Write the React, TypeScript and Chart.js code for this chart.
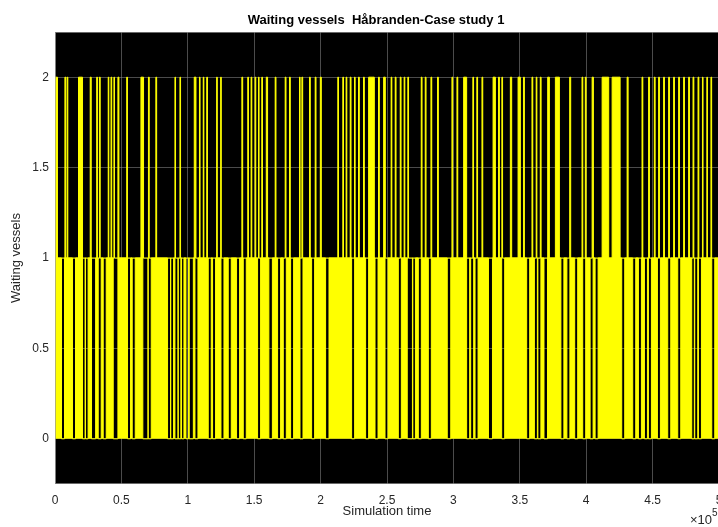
import React, { useEffect, useRef } from "react";
import { Chart, registerables } from "chart.js";

Chart.register(...registerables);

const TITLE = "Waiting vessels  Håbranden-Case study 1";
const X_LABEL = "Simulation time";
const Y_LABEL = "Waiting vessels";
const X_EXPONENT = "5";

const TIME_MIN = 0;
const TIME_MAX = 500000;
const Y_MIN = -0.25;
const Y_MAX = 2.25;

const xTickValues = [0, 50000, 100000, 150000, 200000, 250000, 300000, 350000, 400000, 450000, 500000];
const xTickLabels = ["0", "0.5", "1", "1.5", "2", "2.5", "3", "3.5", "4", "4.5", "5"];
const yTickValues = [0, 0.5, 1, 1.5, 2];
const yTickLabels = ["0", "0.5", "1", "1.5", "2"];

// Periods (simulation time) in which two vessels were waiting
const twoWaitingStart = [
  0, 7460, 9190, 17700, 26520, 31410, 33450, 40080, 42180, 44370, 47380, 54010, 64710, 70360, 75940,
  90320, 94090, 104860, 108780, 111640, 114270, 121740, 124750, 140720, 145160, 147650, 150670, 153220,
  155710, 159100, 165800, 173330, 176570, 184110, 185910, 191640, 195930, 199780, 212960, 216730, 219210,
  222300, 225530, 228550, 232310, 236160, 243620, 247460, 253110, 256200, 259970, 262900, 265690, 275790,
  278800, 283090, 288060, 298910, 302680, 307720, 314660, 317660, 321510, 329870, 334010, 336500, 342900,
  348700, 352840, 359170, 362340, 365430, 371000, 376800, 387570, 396840, 399320, 404450, 411980, 419520,
  430810, 442030, 447010, 451300, 454540, 458300, 462080, 465840, 469610, 473370, 477140, 480450, 484220,
  487530, 490850, 493940,
];
const twoWaitingEnd = [
  1880, 8140, 9650, 20720, 27270, 31940, 34050, 40530, 42720, 44820, 48130, 54540, 66670, 70960, 76540,
  90770, 94540, 106140, 109230, 112090, 114810, 122190, 125200, 141320, 145690, 148180, 151190, 153670,
  156230, 160070, 166400, 173940, 177180, 184560, 186510, 192240, 196540, 200530, 213490, 217250, 219740,
  222910, 226000, 229150, 232920, 240450, 244220, 248730, 253640, 256800, 260570, 263430, 266220, 276390,
  279400, 283690, 288670, 299510, 303280, 309980, 315180, 318200, 322110, 331610, 334620, 337020, 343880,
  350430, 353440, 359770, 362860, 366030, 372280, 379810, 388330, 397440, 399930, 405420, 416950, 425540,
  431560, 442640, 447610, 451900, 455140, 458910, 462680, 466440, 470210, 473970, 477740, 481050, 484820,
  487980, 491300, 494460,
];

// Periods in which the queue never went back and forth between zero and one vessel
const calmStart = [
  4900, 13190, 20720, 22980, 27500, 32550, 36310, 43840, 54610, 58150, 66140, 70210, 84750, 87160, 90320,
  92810, 95300, 98610, 101090, 105390, 115410, 118650, 124980, 130470, 136720, 141770, 152540, 161060,
  167610, 171900, 177410, 184490, 193230, 203770, 223360, 233900, 240980, 248510, 258540, 265240, 269460,
  273600, 281130, 295370, 309980, 313000, 316310, 326400, 336350, 355180, 360980, 363620, 368210, 380950,
  385460, 391340, 397370, 402950, 406710, 426750, 435030, 439330, 443850, 446860, 453640, 461390, 468930,
  479480, 481740, 484520, 494550,
];
const calmEnd = [
  7160, 15440, 22670, 24930, 30590, 34800, 38570, 47380, 56880, 60420, 69980, 72470, 87010, 89270, 92580,
  94760, 97100, 100560, 104180, 107640, 117660, 120900, 127230, 132730, 138980, 144030, 154810, 163690,
  169870, 174170, 179660, 186740, 195480, 206320, 225610, 236160, 243240, 250770, 260790, 269150, 271410,
  275860, 283390, 298000, 312240, 315260, 318570, 329420, 338610, 357440, 363240, 365880, 370850, 383200,
  387720, 393600, 399620, 405200, 408960, 429000, 437290, 441580, 446110, 449110, 455900, 463660, 471190,
  481430, 483990, 486780, 496800,
];

const YELLOW = "#ffff00";
const FONT = "'Liberation Sans', Arial, Helvetica, sans-serif";

type Pt = { x: number; y: number };

// Stairs series: value `high` inside each [start, end) interval, `low` elsewhere.
function stairs(starts: number[], ends: number[], low: number, high: number): Pt[] {
  const pts: Pt[] = [];
  if (starts.length === 0 || starts[0] > TIME_MIN) pts.push({ x: TIME_MIN, y: low });
  for (let i = 0; i < starts.length; i++) {
    pts.push({ x: starts[i], y: high });
    pts.push({ x: ends[i], y: low });
  }
  pts.push({ x: TIME_MAX, y: low });
  return pts;
}

const axesPlugin = {
  id: "matlabAxes",
  beforeDraw(chart: any) {
    const { ctx, chartArea: a } = chart;
    ctx.save();
    ctx.fillStyle = "#000000";
    ctx.fillRect(a.left, a.top, a.right - a.left, a.bottom - a.top);
    ctx.restore();
  },
  afterDraw(chart: any) {
    const { ctx, chartArea: a } = chart;
    ctx.save();
    ctx.strokeStyle = "rgba(150,150,150,0.7)";
    ctx.lineWidth = 1;
    ctx.strokeRect(a.left + 0.5, a.top + 0.5, a.right - a.left - 1, a.bottom - a.top - 1);

    ctx.fillStyle = "#000000";
    ctx.font = `bold 13px ${FONT}`;
    ctx.textAlign = "center";
    ctx.textBaseline = "middle";
    ctx.fillText(TITLE, 376, 20);

    ctx.fillStyle = "#262626";
    ctx.font = `13px ${FONT}`;
    ctx.textAlign = "right";
    ctx.textBaseline = "middle";
    ctx.fillText("\u00d710", 712, 520);
    ctx.font = `10px ${FONT}`;
    ctx.textAlign = "left";
    ctx.fillText(X_EXPONENT, 712, 513);
    ctx.restore();
  },
};

export default function App() {
  const canvasRef = useRef<HTMLCanvasElement | null>(null);

  useEffect(() => {
    const canvas = canvasRef.current;
    if (!canvas) return;
    const gridColor = "rgba(150,150,150,0.5)";
    const chart = new Chart(canvas, {
      type: "line",
      data: {
        datasets: [
          {
            label: "one vessel",
            data: stairs(calmStart, calmEnd, 1, 0),
            stepped: true,
            borderColor: YELLOW,
            backgroundColor: YELLOW,
            borderWidth: 1,
            pointRadius: 0,
            fill: "origin",
          },
          {
            label: "two vessels",
            data: stairs(twoWaitingStart, twoWaitingEnd, 1, 2),
            stepped: true,
            borderColor: YELLOW,
            backgroundColor: YELLOW,
            borderWidth: 1,
            pointRadius: 0,
            fill: { value: 1 },
          },
        ],
      },
      options: {
        responsive: false,
        animation: false,
        devicePixelRatio: 1,
        parsing: false,
        normalized: true,
        layout: { padding: { left: 0, right: 33, top: 32, bottom: 0 } },
        plugins: {
          legend: { display: false },
          tooltip: { enabled: false },
          title: { display: false },
        },
        scales: {
          x: {
            type: "linear",
            min: TIME_MIN,
            max: TIME_MAX,
            z: 1,
            afterFit: (s: any) => {
              s.height = 43;
            },
            afterBuildTicks: (s: any) => {
              s.ticks = xTickValues.map((v) => ({ value: v }));
            },
            grid: { color: gridColor, lineWidth: 1, drawTicks: false },
            border: { display: false },
            ticks: {
              autoSkip: false,
              maxRotation: 0,
              padding: 9,
              color: "#262626",
              font: { family: FONT, size: 12 },
              callback: (_v: any, i: number) => xTickLabels[i],
            },
            title: {
              display: true,
              text: X_LABEL,
              color: "#262626",
              font: { family: FONT, size: 13 },
              padding: { top: 0, bottom: 8 },
            },
          },
          y: {
            type: "linear",
            min: Y_MIN,
            max: Y_MAX,
            z: 1,
            afterFit: (s: any) => {
              s.width = 55;
            },
            afterBuildTicks: (s: any) => {
              s.ticks = yTickValues.map((v) => ({ value: v }));
            },
            grid: { color: gridColor, lineWidth: 1, drawTicks: false },
            border: { display: false },
            ticks: {
              padding: 6,
              color: "#262626",
              font: { family: FONT, size: 12 },
              callback: (_v: any, i: number) => yTickLabels[i],
            },
            title: {
              display: true,
              text: Y_LABEL,
              color: "#262626",
              font: { family: FONT, size: 13 },
              padding: { top: 9, bottom: 0 },
            },
          },
        },
      },
      plugins: [axesPlugin],
    });
    return () => chart.destroy();
  }, []);

  return (
    <div
      style={{
        position: "fixed",
        left: 0,
        top: 0,
        width: 718,
        height: 527,
        overflow: "hidden",
        background: "#ffffff",
      }}
    >
      <canvas ref={canvasRef} width={752} height={527} style={{ display: "block", width: 752, height: 527 }} />
    </div>
  );
}
